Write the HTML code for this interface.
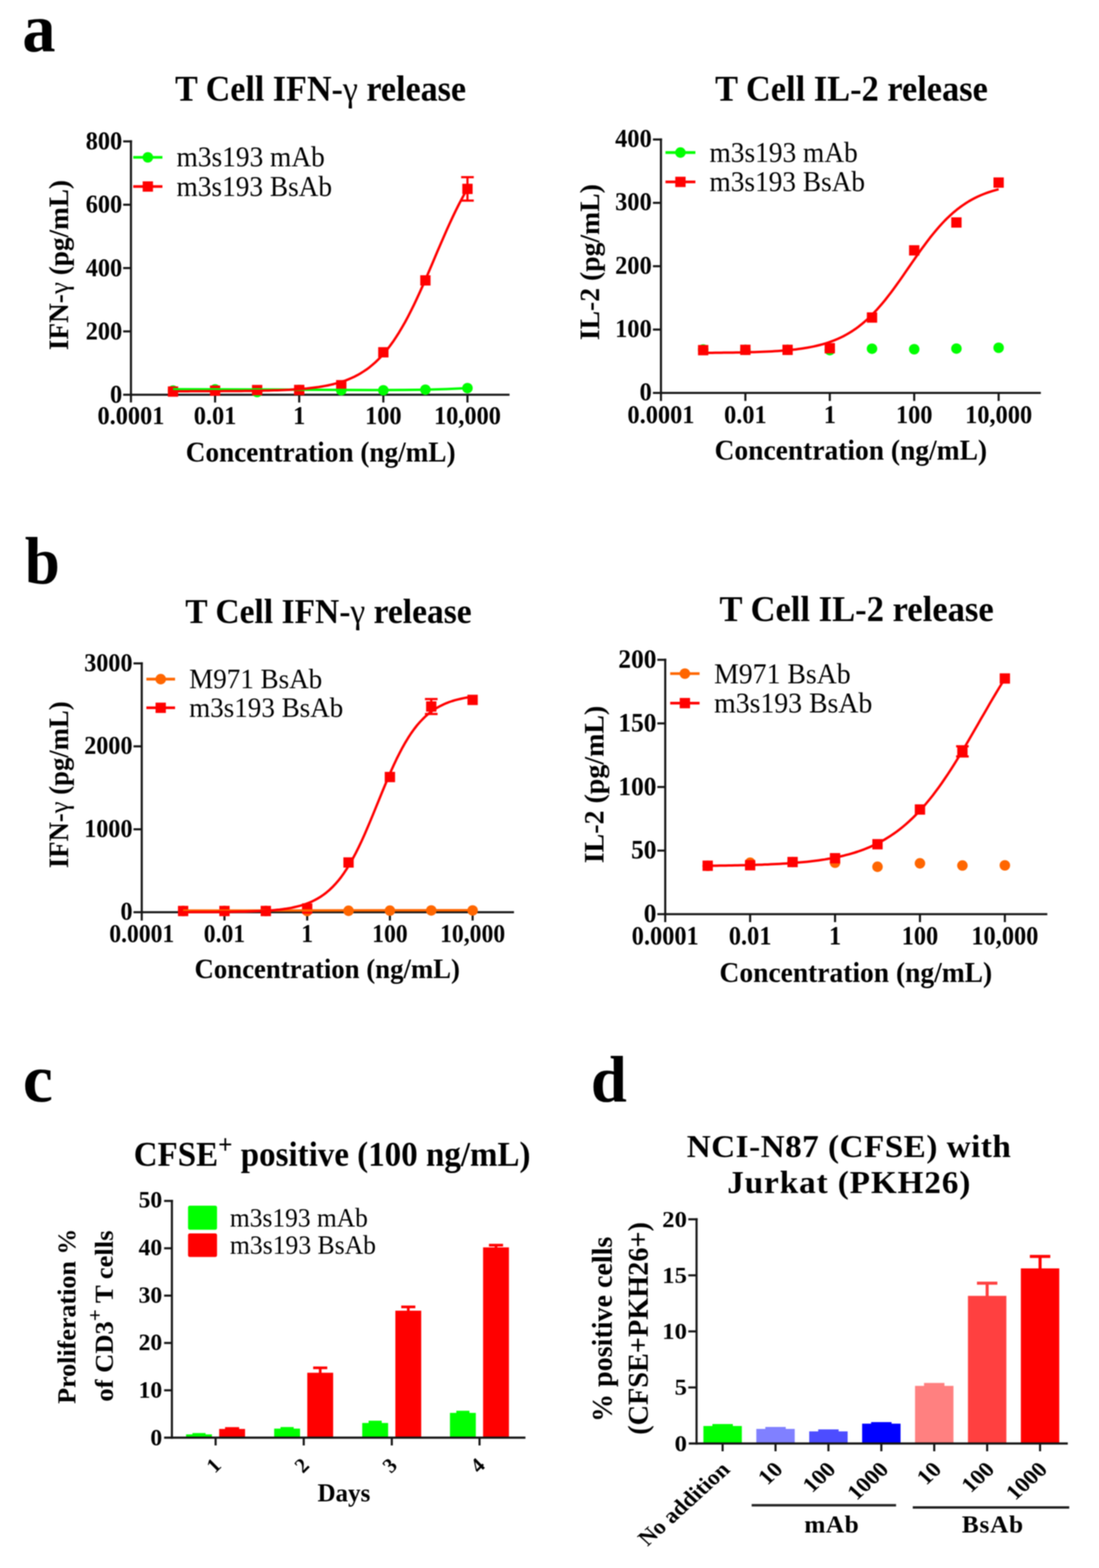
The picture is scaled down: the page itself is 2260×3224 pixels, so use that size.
<!DOCTYPE html>
<html lang="en">
<head>
<meta charset="utf-8">
<title>Figure: T cell cytokine release and proliferation</title>
<style>
html,body{margin:0;padding:0;background:#fff;}
body{width:2260px;height:3224px;overflow:hidden;}
svg{display:block;font-family:'Liberation Serif', 'DejaVu Serif', serif;}
</style>
</head>
<body>
<svg width="2260" height="3224" viewBox="0 0 2260 3224" font-family="'Liberation Serif', 'DejaVu Serif', serif">
<defs><filter id="soft" x="0" y="0" width="2260" height="3224" filterUnits="userSpaceOnUse" color-interpolation-filters="sRGB"><feGaussianBlur stdDeviation="0.9"/></filter></defs>
<rect x="0" y="0" width="2260" height="3224" fill="#fff"/>
<g filter="url(#soft)">
<rect x="0" y="0" width="2260" height="3224" fill="#fff"/>
<g id="a1">
<line x1="269.30" y1="288.55" x2="269.30" y2="827.60" stroke="#141414" stroke-width="4.3"/>
<line x1="253.30" y1="811.60" x2="1047.80" y2="811.60" stroke="#141414" stroke-width="4.3"/>
<line x1="253.30" y1="681.38" x2="269.30" y2="681.38" stroke="#141414" stroke-width="4.3"/>
<line x1="253.30" y1="551.15" x2="269.30" y2="551.15" stroke="#141414" stroke-width="4.3"/>
<line x1="253.30" y1="420.92" x2="269.30" y2="420.92" stroke="#141414" stroke-width="4.3"/>
<line x1="253.30" y1="290.70" x2="271.45" y2="290.70" stroke="#141414" stroke-width="4.3"/>
<line x1="442.30" y1="811.60" x2="442.30" y2="827.60" stroke="#141414" stroke-width="4.3"/>
<line x1="615.30" y1="811.60" x2="615.30" y2="827.60" stroke="#141414" stroke-width="4.3"/>
<line x1="788.30" y1="811.60" x2="788.30" y2="827.60" stroke="#141414" stroke-width="4.3"/>
<line x1="961.30" y1="811.60" x2="961.30" y2="827.60" stroke="#141414" stroke-width="4.3"/>
<circle cx="355.80" cy="803.14" r="10.80" fill="#00ff00"/>
<circle cx="442.30" cy="800.53" r="10.80" fill="#00ff00"/>
<circle cx="528.80" cy="806.07" r="10.80" fill="#00ff00"/>
<circle cx="615.30" cy="801.83" r="10.80" fill="#00ff00"/>
<circle cx="701.80" cy="802.48" r="10.80" fill="#00ff00"/>
<circle cx="788.30" cy="802.48" r="10.80" fill="#00ff00"/>
<circle cx="874.80" cy="801.18" r="10.80" fill="#00ff00"/>
<circle cx="961.30" cy="797.93" r="10.80" fill="#00ff00"/>
<rect x="345.20" y="794.49" width="21.20" height="21.20" fill="#ff0000"/>
<rect x="431.70" y="792.67" width="21.20" height="21.20" fill="#ff0000"/>
<rect x="518.20" y="791.43" width="21.20" height="21.20" fill="#ff0000"/>
<rect x="604.70" y="791.23" width="21.20" height="21.20" fill="#ff0000"/>
<rect x="691.20" y="781.47" width="21.20" height="21.20" fill="#ff0000"/>
<rect x="777.70" y="713.75" width="21.20" height="21.20" fill="#ff0000"/>
<rect x="864.20" y="565.94" width="21.20" height="21.20" fill="#ff0000"/>
<line x1="961.30" y1="364.28" x2="961.30" y2="412.46" stroke="#ff0000" stroke-width="4.5"/>
<line x1="948.30" y1="364.28" x2="974.30" y2="364.28" stroke="#ff0000" stroke-width="4.5"/>
<line x1="948.30" y1="412.46" x2="974.30" y2="412.46" stroke="#ff0000" stroke-width="4.5"/>
<rect x="950.70" y="377.77" width="21.20" height="21.20" fill="#ff0000"/>
<path d="M355.8,800.3 L442.3,800.4 L528.8,800.7 L615.3,801.2 L701.8,801.7 L788.3,802.0 L831.5,801.8 L874.8,801.2 L918.0,799.9 L961.3,797.9" fill="none" stroke="#00ff00" stroke-width="5.0" stroke-linejoin="round"/>
<path d="M355.8,804.4 L361.9,804.4 L368.0,804.4 L374.1,804.4 L380.3,804.4 L386.4,804.4 L392.5,804.3 L398.6,804.3 L404.7,804.3 L410.8,804.3 L417.0,804.3 L423.1,804.3 L429.2,804.3 L435.3,804.2 L441.4,804.2 L447.5,804.2 L453.7,804.2 L459.8,804.1 L465.9,804.1 L472.0,804.1 L478.1,804.0 L484.2,804.0 L490.4,803.9 L496.5,803.9 L502.6,803.8 L508.7,803.7 L514.8,803.7 L520.9,803.6 L527.1,803.5 L533.2,803.4 L539.3,803.2 L545.4,803.1 L551.5,803.0 L557.6,802.8 L563.7,802.6 L569.9,802.4 L576.0,802.2 L582.1,801.9 L588.2,801.7 L594.3,801.4 L600.4,801.0 L606.6,800.6 L612.7,800.2 L618.8,799.7 L624.9,799.2 L631.0,798.7 L637.1,798.0 L643.3,797.3 L649.4,796.5 L655.5,795.7 L661.6,794.7 L667.7,793.6 L673.8,792.5 L680.0,791.1 L686.1,789.7 L692.2,788.1 L698.3,786.3 L704.4,784.4 L710.5,782.3 L716.7,779.9 L722.8,777.3 L728.9,774.4 L735.0,771.3 L741.1,767.8 L747.2,764.0 L753.4,759.9 L759.5,755.4 L765.6,750.4 L771.7,745.1 L777.8,739.2 L783.9,732.9 L790.0,726.1 L796.2,718.7 L802.3,710.8 L808.4,702.3 L814.5,693.2 L820.6,683.6 L826.7,673.3 L832.9,662.5 L839.0,651.1 L845.1,639.2 L851.2,626.8 L857.3,613.9 L863.4,600.6 L869.6,586.9 L875.7,572.9 L881.8,558.7 L887.9,544.4 L894.0,530.0 L900.1,515.6 L906.3,501.3 L912.4,487.2 L918.5,473.3 L924.6,459.8 L930.7,446.6 L936.8,433.8 L943.0,421.5 L949.1,409.8 L955.2,398.6 L961.3,387.9" fill="none" stroke="#ff0000" stroke-width="5.0" stroke-linejoin="round"/>
<text transform="translate(251.30 828.10) scale(0.9450 1)" font-size="53.00" font-weight="bold" text-anchor="end">0</text>
<text transform="translate(251.30 697.88) scale(0.9450 1)" font-size="53.00" font-weight="bold" text-anchor="end">200</text>
<text transform="translate(251.30 567.65) scale(0.9450 1)" font-size="53.00" font-weight="bold" text-anchor="end">400</text>
<text transform="translate(251.30 437.42) scale(0.9450 1)" font-size="53.00" font-weight="bold" text-anchor="end">600</text>
<text transform="translate(251.30 307.20) scale(0.9450 1)" font-size="53.00" font-weight="bold" text-anchor="end">800</text>
<text transform="translate(269.30 871.50) scale(0.9450 1)" font-size="53.00" font-weight="bold" text-anchor="middle">0.0001</text>
<text transform="translate(442.30 871.50) scale(0.9450 1)" font-size="53.00" font-weight="bold" text-anchor="middle">0.01</text>
<text transform="translate(615.30 871.50) scale(0.9450 1)" font-size="53.00" font-weight="bold" text-anchor="middle">1</text>
<text transform="translate(788.30 871.50) scale(0.9450 1)" font-size="53.00" font-weight="bold" text-anchor="middle">100</text>
<text transform="translate(961.30 871.50) scale(0.9450 1)" font-size="53.00" font-weight="bold" text-anchor="middle">10,000</text>
<text transform="translate(382.00 949.00) scale(0.9551 1)" font-size="58.60" font-weight="bold">Concentration (ng/mL)</text>
<text transform="translate(360.00 207.00) scale(0.9598 1)" font-size="73.00" font-weight="bold">T Cell IFN-<tspan font-weight="normal">γ</tspan> release</text>
<text transform="translate(139.70 720.00) rotate(-90) scale(0.9660 1)" font-size="58.00" font-weight="bold">IFN-<tspan font-weight="normal">γ</tspan> (pg/mL)</text>
<line x1="274.00" y1="323.50" x2="334.00" y2="323.50" stroke="#00ff00" stroke-width="5.6"/>
<circle cx="304.00" cy="323.50" r="10.80" fill="#00ff00"/>
<text transform="translate(363.00 342.20) scale(0.9608 1)" font-size="58.60">m3s193 mAb</text>
<line x1="274.00" y1="383.50" x2="334.00" y2="383.50" stroke="#ff0000" stroke-width="5.6"/>
<rect x="293.40" y="372.90" width="21.20" height="21.20" fill="#ff0000"/>
<text transform="translate(363.00 403.00) scale(0.9588 1)" font-size="58.60">m3s193 BsAb</text>
</g>
<g id="a2">
<line x1="1359.20" y1="284.65" x2="1359.20" y2="824.40" stroke="#141414" stroke-width="4.3"/>
<line x1="1342.70" y1="807.90" x2="2140.40" y2="807.90" stroke="#141414" stroke-width="4.3"/>
<line x1="1342.70" y1="677.62" x2="1359.20" y2="677.62" stroke="#141414" stroke-width="4.3"/>
<line x1="1342.70" y1="547.35" x2="1359.20" y2="547.35" stroke="#141414" stroke-width="4.3"/>
<line x1="1342.70" y1="417.08" x2="1359.20" y2="417.08" stroke="#141414" stroke-width="4.3"/>
<line x1="1342.70" y1="286.80" x2="1361.35" y2="286.80" stroke="#141414" stroke-width="4.3"/>
<line x1="1532.80" y1="807.90" x2="1532.80" y2="824.40" stroke="#141414" stroke-width="4.3"/>
<line x1="1706.40" y1="807.90" x2="1706.40" y2="824.40" stroke="#141414" stroke-width="4.3"/>
<line x1="1880.00" y1="807.90" x2="1880.00" y2="824.40" stroke="#141414" stroke-width="4.3"/>
<line x1="2053.60" y1="807.90" x2="2053.60" y2="824.40" stroke="#141414" stroke-width="4.3"/>
<circle cx="1446.00" cy="718.66" r="10.80" fill="#00ff00"/>
<circle cx="1532.80" cy="719.31" r="10.80" fill="#00ff00"/>
<circle cx="1619.60" cy="719.31" r="10.80" fill="#00ff00"/>
<circle cx="1706.40" cy="719.96" r="10.80" fill="#00ff00"/>
<circle cx="1793.20" cy="716.97" r="10.80" fill="#00ff00"/>
<circle cx="1880.00" cy="718.01" r="10.80" fill="#00ff00"/>
<circle cx="1966.80" cy="716.71" r="10.80" fill="#00ff00"/>
<circle cx="2053.60" cy="715.01" r="10.80" fill="#00ff00"/>
<rect x="1435.40" y="709.36" width="21.20" height="21.20" fill="#ff0000"/>
<rect x="1522.20" y="708.71" width="21.20" height="21.20" fill="#ff0000"/>
<rect x="1609.00" y="708.71" width="21.20" height="21.20" fill="#ff0000"/>
<rect x="1695.80" y="705.33" width="21.20" height="21.20" fill="#ff0000"/>
<rect x="1782.60" y="642.27" width="21.20" height="21.20" fill="#ff0000"/>
<rect x="1869.40" y="504.18" width="21.20" height="21.20" fill="#ff0000"/>
<rect x="1956.20" y="446.86" width="21.20" height="21.20" fill="#ff0000"/>
<rect x="2043.00" y="364.79" width="21.20" height="21.20" fill="#ff0000"/>
<path d="M1446.0,725.5 L1452.1,725.4 L1458.3,725.4 L1464.4,725.4 L1470.5,725.3 L1476.7,725.3 L1482.8,725.2 L1489.0,725.1 L1495.1,725.1 L1501.2,725.0 L1507.4,724.9 L1513.5,724.8 L1519.6,724.7 L1525.8,724.6 L1531.9,724.4 L1538.1,724.3 L1544.2,724.1 L1550.3,724.0 L1556.5,723.8 L1562.6,723.6 L1568.7,723.3 L1574.9,723.1 L1581.0,722.8 L1587.2,722.4 L1593.3,722.1 L1599.4,721.7 L1605.6,721.3 L1611.7,720.8 L1617.8,720.3 L1624.0,719.7 L1630.1,719.1 L1636.3,718.4 L1642.4,717.6 L1648.5,716.7 L1654.7,715.8 L1660.8,714.8 L1666.9,713.6 L1673.1,712.4 L1679.2,711.0 L1685.4,709.5 L1691.5,707.9 L1697.6,706.1 L1703.8,704.1 L1709.9,701.9 L1716.0,699.6 L1722.2,697.0 L1728.3,694.2 L1734.5,691.2 L1740.6,687.9 L1746.7,684.3 L1752.9,680.5 L1759.0,676.4 L1765.1,671.9 L1771.3,667.1 L1777.4,662.0 L1783.6,656.5 L1789.7,650.7 L1795.8,644.6 L1802.0,638.1 L1808.1,631.2 L1814.2,624.1 L1820.4,616.6 L1826.5,608.8 L1832.7,600.8 L1838.8,592.5 L1844.9,584.0 L1851.1,575.4 L1857.2,566.6 L1863.3,557.7 L1869.5,548.8 L1875.6,539.9 L1881.8,531.0 L1887.9,522.3 L1894.0,513.6 L1900.2,505.2 L1906.3,496.9 L1912.4,488.9 L1918.6,481.2 L1924.7,473.8 L1930.9,466.7 L1937.0,459.9 L1943.1,453.4 L1949.3,447.3 L1955.4,441.6 L1961.5,436.2 L1967.7,431.1 L1973.8,426.4 L1980.0,422.0 L1986.1,417.9 L1992.2,414.0 L1998.4,410.5 L2004.5,407.3 L2010.6,404.3 L2016.8,401.5 L2022.9,399.0 L2029.1,396.7 L2035.2,394.6 L2041.3,392.6 L2047.5,390.8 L2053.6,389.2" fill="none" stroke="#ff0000" stroke-width="5.0" stroke-linejoin="round"/>
<text transform="translate(1340.20 823.20) scale(0.9450 1)" font-size="53.00" font-weight="bold" text-anchor="end">0</text>
<text transform="translate(1340.20 692.83) scale(0.9450 1)" font-size="53.00" font-weight="bold" text-anchor="end">100</text>
<text transform="translate(1340.20 562.55) scale(0.9450 1)" font-size="53.00" font-weight="bold" text-anchor="end">200</text>
<text transform="translate(1340.20 432.18) scale(0.9450 1)" font-size="53.00" font-weight="bold" text-anchor="end">300</text>
<text transform="translate(1340.20 302.00) scale(0.9450 1)" font-size="53.00" font-weight="bold" text-anchor="end">400</text>
<text transform="translate(1359.20 869.50) scale(0.9450 1)" font-size="53.00" font-weight="bold" text-anchor="middle">0.0001</text>
<text transform="translate(1532.80 869.50) scale(0.9450 1)" font-size="53.00" font-weight="bold" text-anchor="middle">0.01</text>
<text transform="translate(1706.40 869.50) scale(0.9450 1)" font-size="53.00" font-weight="bold" text-anchor="middle">1</text>
<text transform="translate(1880.00 869.50) scale(0.9450 1)" font-size="53.00" font-weight="bold" text-anchor="middle">100</text>
<text transform="translate(2053.60 869.50) scale(0.9450 1)" font-size="53.00" font-weight="bold" text-anchor="middle">10,000</text>
<text transform="translate(1469.50 944.50) scale(0.9646 1)" font-size="58.60" font-weight="bold">Concentration (ng/mL)</text>
<text transform="translate(1470.50 207.40) scale(0.9686 1)" font-size="73.00" font-weight="bold">T Cell IL-2 release</text>
<text transform="translate(1232.00 699.50) rotate(-90) scale(0.9814 1)" font-size="58.00" font-weight="bold">IL-2 (pg/mL)</text>
<line x1="1368.50" y1="313.60" x2="1430.00" y2="313.60" stroke="#00ff00" stroke-width="5.6"/>
<circle cx="1399.25" cy="313.60" r="10.80" fill="#00ff00"/>
<text transform="translate(1459.00 333.00) scale(0.9608 1)" font-size="58.60">m3s193 mAb</text>
<line x1="1368.50" y1="374.00" x2="1430.00" y2="374.00" stroke="#ff0000" stroke-width="5.6"/>
<rect x="1388.65" y="363.40" width="21.20" height="21.20" fill="#ff0000"/>
<text transform="translate(1459.00 392.70) scale(0.9588 1)" font-size="58.60">m3s193 BsAb</text>
</g>
<g id="b1">
<line x1="291.50" y1="1361.85" x2="291.50" y2="1892.70" stroke="#141414" stroke-width="4.3"/>
<line x1="274.50" y1="1875.70" x2="1056.95" y2="1875.70" stroke="#141414" stroke-width="4.3"/>
<line x1="274.50" y1="1705.13" x2="291.50" y2="1705.13" stroke="#141414" stroke-width="4.3"/>
<line x1="274.50" y1="1534.57" x2="291.50" y2="1534.57" stroke="#141414" stroke-width="4.3"/>
<line x1="274.50" y1="1364.00" x2="293.65" y2="1364.00" stroke="#141414" stroke-width="4.3"/>
<line x1="461.60" y1="1875.70" x2="461.60" y2="1892.70" stroke="#141414" stroke-width="4.3"/>
<line x1="631.70" y1="1875.70" x2="631.70" y2="1892.70" stroke="#141414" stroke-width="4.3"/>
<line x1="801.80" y1="1875.70" x2="801.80" y2="1892.70" stroke="#141414" stroke-width="4.3"/>
<line x1="971.90" y1="1875.70" x2="971.90" y2="1892.70" stroke="#141414" stroke-width="4.3"/>
<circle cx="376.55" cy="1873.14" r="10.80" fill="#ff6600"/>
<circle cx="461.60" cy="1873.14" r="10.80" fill="#ff6600"/>
<circle cx="546.65" cy="1873.14" r="10.80" fill="#ff6600"/>
<circle cx="631.70" cy="1873.14" r="10.80" fill="#ff6600"/>
<circle cx="716.75" cy="1872.63" r="10.80" fill="#ff6600"/>
<circle cx="801.80" cy="1872.29" r="10.80" fill="#ff6600"/>
<circle cx="886.85" cy="1871.95" r="10.80" fill="#ff6600"/>
<circle cx="971.90" cy="1871.95" r="10.80" fill="#ff6600"/>
<rect x="365.95" y="1862.54" width="21.20" height="21.20" fill="#ff0000"/>
<rect x="451.00" y="1862.54" width="21.20" height="21.20" fill="#ff0000"/>
<rect x="536.05" y="1862.54" width="21.20" height="21.20" fill="#ff0000"/>
<rect x="621.10" y="1857.42" width="21.20" height="21.20" fill="#ff0000"/>
<rect x="706.15" y="1762.76" width="21.20" height="21.20" fill="#ff0000"/>
<rect x="791.20" y="1587.08" width="21.20" height="21.20" fill="#ff0000"/>
<line x1="886.85" y1="1437.34" x2="886.85" y2="1468.05" stroke="#ff0000" stroke-width="4.5"/>
<line x1="873.85" y1="1437.34" x2="899.85" y2="1437.34" stroke="#ff0000" stroke-width="4.5"/>
<line x1="873.85" y1="1468.05" x2="899.85" y2="1468.05" stroke="#ff0000" stroke-width="4.5"/>
<rect x="876.25" y="1442.09" width="21.20" height="21.20" fill="#ff0000"/>
<rect x="961.30" y="1428.45" width="21.20" height="21.20" fill="#ff0000"/>
<path d="M376.6,1872.3 L971.9,1871.6" fill="none" stroke="#ff6600" stroke-width="5.0" stroke-linejoin="round"/>
<path d="M376.6,1875.4 L382.6,1875.4 L388.6,1875.4 L394.6,1875.3 L400.6,1875.3 L406.6,1875.3 L412.6,1875.3 L418.6,1875.3 L424.7,1875.3 L430.7,1875.2 L436.7,1875.2 L442.7,1875.2 L448.7,1875.1 L454.7,1875.1 L460.7,1875.0 L466.8,1875.0 L472.8,1874.9 L478.8,1874.8 L484.8,1874.7 L490.8,1874.6 L496.8,1874.5 L502.8,1874.4 L508.8,1874.2 L514.9,1874.0 L520.9,1873.8 L526.9,1873.6 L532.9,1873.3 L538.9,1873.0 L544.9,1872.7 L550.9,1872.3 L557.0,1871.9 L563.0,1871.4 L569.0,1870.8 L575.0,1870.2 L581.0,1869.4 L587.0,1868.6 L593.0,1867.6 L599.1,1866.6 L605.1,1865.3 L611.1,1863.9 L617.1,1862.4 L623.1,1860.6 L629.1,1858.6 L635.1,1856.3 L641.1,1853.7 L647.2,1850.8 L653.2,1847.5 L659.2,1843.9 L665.2,1839.8 L671.2,1835.2 L677.2,1830.1 L683.2,1824.4 L689.3,1818.1 L695.3,1811.2 L701.3,1803.6 L707.3,1795.2 L713.3,1786.2 L719.3,1776.3 L725.3,1765.8 L731.4,1754.4 L737.4,1742.4 L743.4,1729.7 L749.4,1716.5 L755.4,1702.6 L761.4,1688.4 L767.4,1673.9 L773.4,1659.1 L779.5,1644.3 L785.5,1629.5 L791.5,1615.0 L797.5,1600.7 L803.5,1586.8 L809.5,1573.5 L815.5,1560.7 L821.6,1548.6 L827.6,1537.2 L833.6,1526.6 L839.6,1516.7 L845.6,1507.5 L851.6,1499.1 L857.6,1491.4 L863.7,1484.4 L869.7,1478.1 L875.7,1472.3 L881.7,1467.2 L887.7,1462.5 L893.7,1458.4 L899.7,1454.7 L905.8,1451.4 L911.8,1448.5 L917.8,1445.8 L923.8,1443.5 L929.8,1441.5 L935.8,1439.7 L941.8,1438.1 L947.8,1436.7 L953.9,1435.4 L959.9,1434.3 L965.9,1433.4 L971.9,1432.5" fill="none" stroke="#ff0000" stroke-width="5.0" stroke-linejoin="round"/>
<text transform="translate(272.50 1891.20) scale(0.9550 1)" font-size="52.00" font-weight="bold" text-anchor="end">0</text>
<text transform="translate(272.50 1720.63) scale(0.9550 1)" font-size="52.00" font-weight="bold" text-anchor="end">1000</text>
<text transform="translate(272.50 1550.07) scale(0.9550 1)" font-size="52.00" font-weight="bold" text-anchor="end">2000</text>
<text transform="translate(272.50 1379.50) scale(0.9550 1)" font-size="52.00" font-weight="bold" text-anchor="end">3000</text>
<text transform="translate(291.50 1936.80) scale(0.9350 1)" font-size="52.00" font-weight="bold" text-anchor="middle">0.0001</text>
<text transform="translate(461.60 1936.80) scale(0.9350 1)" font-size="52.00" font-weight="bold" text-anchor="middle">0.01</text>
<text transform="translate(631.70 1936.80) scale(0.9350 1)" font-size="52.00" font-weight="bold" text-anchor="middle">1</text>
<text transform="translate(801.80 1936.80) scale(0.9350 1)" font-size="52.00" font-weight="bold" text-anchor="middle">100</text>
<text transform="translate(971.90 1936.80) scale(0.9350 1)" font-size="52.00" font-weight="bold" text-anchor="middle">10,000</text>
<text transform="translate(400.00 2011.00) scale(0.9576 1)" font-size="57.50" font-weight="bold">Concentration (ng/mL)</text>
<text transform="translate(381.00 1281.00) scale(0.9511 1)" font-size="72.50" font-weight="bold">T Cell IFN-<tspan font-weight="normal">γ</tspan> release</text>
<text transform="translate(140.00 1785.00) rotate(-90) scale(0.9633 1)" font-size="57.00" font-weight="bold">IFN-<tspan font-weight="normal">γ</tspan> (pg/mL)</text>
<line x1="301.00" y1="1396.40" x2="360.00" y2="1396.40" stroke="#ff6600" stroke-width="5.6"/>
<circle cx="330.50" cy="1396.40" r="10.80" fill="#ff6600"/>
<text transform="translate(389.00 1414.60) scale(0.9680 1)" font-size="57.50">M971 BsAb</text>
<line x1="301.00" y1="1455.30" x2="360.00" y2="1455.30" stroke="#ff0000" stroke-width="5.6"/>
<rect x="319.90" y="1444.70" width="21.20" height="21.20" fill="#ff0000"/>
<text transform="translate(389.00 1474.00) scale(0.9680 1)" font-size="57.50">m3s193 BsAb</text>
</g>
<g id="b2">
<line x1="1368.00" y1="1354.45" x2="1368.00" y2="1896.00" stroke="#141414" stroke-width="4.3"/>
<line x1="1351.70" y1="1879.70" x2="2153.70" y2="1879.70" stroke="#141414" stroke-width="4.3"/>
<line x1="1351.70" y1="1748.92" x2="1368.00" y2="1748.92" stroke="#141414" stroke-width="4.3"/>
<line x1="1351.70" y1="1618.15" x2="1368.00" y2="1618.15" stroke="#141414" stroke-width="4.3"/>
<line x1="1351.70" y1="1487.38" x2="1368.00" y2="1487.38" stroke="#141414" stroke-width="4.3"/>
<line x1="1351.70" y1="1356.60" x2="1370.15" y2="1356.60" stroke="#141414" stroke-width="4.3"/>
<line x1="1542.60" y1="1879.70" x2="1542.60" y2="1896.00" stroke="#141414" stroke-width="4.3"/>
<line x1="1717.20" y1="1879.70" x2="1717.20" y2="1896.00" stroke="#141414" stroke-width="4.3"/>
<line x1="1891.80" y1="1879.70" x2="1891.80" y2="1896.00" stroke="#141414" stroke-width="4.3"/>
<line x1="2066.40" y1="1879.70" x2="2066.40" y2="1896.00" stroke="#141414" stroke-width="4.3"/>
<circle cx="1455.30" cy="1780.31" r="10.80" fill="#ff6600"/>
<circle cx="1542.60" cy="1773.77" r="10.80" fill="#ff6600"/>
<circle cx="1629.90" cy="1772.46" r="10.80" fill="#ff6600"/>
<circle cx="1717.20" cy="1773.77" r="10.80" fill="#ff6600"/>
<circle cx="1804.50" cy="1782.14" r="10.80" fill="#ff6600"/>
<circle cx="1891.80" cy="1775.08" r="10.80" fill="#ff6600"/>
<circle cx="1979.10" cy="1779.53" r="10.80" fill="#ff6600"/>
<circle cx="2066.40" cy="1779.26" r="10.80" fill="#ff6600"/>
<rect x="1444.70" y="1769.45" width="21.20" height="21.20" fill="#ff0000"/>
<rect x="1532.00" y="1768.40" width="21.20" height="21.20" fill="#ff0000"/>
<rect x="1619.30" y="1761.86" width="21.20" height="21.20" fill="#ff0000"/>
<rect x="1706.60" y="1754.02" width="21.20" height="21.20" fill="#ff0000"/>
<rect x="1793.90" y="1725.25" width="21.20" height="21.20" fill="#ff0000"/>
<rect x="1881.20" y="1653.84" width="21.20" height="21.20" fill="#ff0000"/>
<line x1="1979.10" y1="1534.45" x2="1979.10" y2="1555.38" stroke="#ff0000" stroke-width="4.5"/>
<line x1="1966.10" y1="1534.45" x2="1992.10" y2="1534.45" stroke="#ff0000" stroke-width="4.5"/>
<line x1="1966.10" y1="1555.38" x2="1992.10" y2="1555.38" stroke="#ff0000" stroke-width="4.5"/>
<rect x="1968.50" y="1534.32" width="21.20" height="21.20" fill="#ff0000"/>
<rect x="2055.80" y="1384.45" width="21.20" height="21.20" fill="#ff0000"/>
<path d="M1455.3,1780.1 L1461.5,1780.1 L1467.6,1780.0 L1473.8,1779.9 L1480.0,1779.8 L1486.2,1779.8 L1492.3,1779.7 L1498.5,1779.6 L1504.7,1779.5 L1510.9,1779.3 L1517.0,1779.2 L1523.2,1779.1 L1529.4,1779.0 L1535.5,1778.8 L1541.7,1778.6 L1547.9,1778.5 L1554.1,1778.3 L1560.2,1778.1 L1566.4,1777.9 L1572.6,1777.6 L1578.8,1777.4 L1584.9,1777.1 L1591.1,1776.8 L1597.3,1776.5 L1603.4,1776.2 L1609.6,1775.8 L1615.8,1775.5 L1622.0,1775.1 L1628.1,1774.6 L1634.3,1774.1 L1640.5,1773.6 L1646.7,1773.1 L1652.8,1772.5 L1659.0,1771.9 L1665.2,1771.2 L1671.3,1770.5 L1677.5,1769.7 L1683.7,1768.9 L1689.9,1768.0 L1696.0,1767.1 L1702.2,1766.0 L1708.4,1765.0 L1714.6,1763.8 L1720.7,1762.5 L1726.9,1761.2 L1733.1,1759.8 L1739.2,1758.2 L1745.4,1756.6 L1751.6,1754.8 L1757.8,1753.0 L1763.9,1751.0 L1770.1,1748.8 L1776.3,1746.6 L1782.5,1744.1 L1788.6,1741.6 L1794.8,1738.8 L1801.0,1735.9 L1807.1,1732.8 L1813.3,1729.5 L1819.5,1726.0 L1825.7,1722.2 L1831.8,1718.3 L1838.0,1714.1 L1844.2,1709.7 L1850.4,1705.0 L1856.5,1700.1 L1862.7,1694.9 L1868.9,1689.4 L1875.0,1683.7 L1881.2,1677.6 L1887.4,1671.3 L1893.6,1664.7 L1899.7,1657.8 L1905.9,1650.5 L1912.1,1643.0 L1918.3,1635.2 L1924.4,1627.1 L1930.6,1618.7 L1936.8,1610.0 L1942.9,1601.0 L1949.1,1591.8 L1955.3,1582.4 L1961.5,1572.7 L1967.6,1562.8 L1973.8,1552.7 L1980.0,1542.4 L1986.2,1532.0 L1992.3,1521.5 L1998.5,1510.8 L2004.7,1500.1 L2010.8,1489.4 L2017.0,1478.6 L2023.2,1467.9 L2029.4,1457.2 L2035.5,1446.5 L2041.7,1436.0 L2047.9,1425.6 L2054.1,1415.3 L2060.2,1405.2 L2066.4,1395.3" fill="none" stroke="#ff0000" stroke-width="5.0" stroke-linejoin="round"/>
<text transform="translate(1350.00 1896.20) scale(0.9600 1)" font-size="54.50" font-weight="bold" text-anchor="end">0</text>
<text transform="translate(1350.00 1765.42) scale(0.9600 1)" font-size="54.50" font-weight="bold" text-anchor="end">50</text>
<text transform="translate(1350.00 1634.65) scale(0.9600 1)" font-size="54.50" font-weight="bold" text-anchor="end">100</text>
<text transform="translate(1350.00 1503.88) scale(0.9600 1)" font-size="54.50" font-weight="bold" text-anchor="end">150</text>
<text transform="translate(1350.00 1373.10) scale(0.9600 1)" font-size="54.50" font-weight="bold" text-anchor="end">200</text>
<text transform="translate(1368.00 1942.00) scale(0.9200 1)" font-size="54.50" font-weight="bold" text-anchor="middle">0.0001</text>
<text transform="translate(1542.60 1942.00) scale(0.9200 1)" font-size="54.50" font-weight="bold" text-anchor="middle">0.01</text>
<text transform="translate(1717.20 1942.00) scale(0.9200 1)" font-size="54.50" font-weight="bold" text-anchor="middle">1</text>
<text transform="translate(1891.80 1942.00) scale(0.9200 1)" font-size="54.50" font-weight="bold" text-anchor="middle">100</text>
<text transform="translate(2066.40 1942.00) scale(0.9200 1)" font-size="54.50" font-weight="bold" text-anchor="middle">10,000</text>
<text transform="translate(1479.60 2019.00) scale(0.9654 1)" font-size="58.60" font-weight="bold">Concentration (ng/mL)</text>
<text transform="translate(1479.50 1276.80) scale(0.9672 1)" font-size="73.50" font-weight="bold">T Cell IL-2 release</text>
<text transform="translate(1241.00 1775.00) rotate(-90) scale(0.9906 1)" font-size="58.00" font-weight="bold">IL-2 (pg/mL)</text>
<line x1="1378.20" y1="1385.00" x2="1438.60" y2="1385.00" stroke="#ff6600" stroke-width="5.6"/>
<circle cx="1408.40" cy="1385.00" r="10.80" fill="#ff6600"/>
<text transform="translate(1468.50 1404.70) scale(0.9750 1)" font-size="58.60">M971 BsAb</text>
<line x1="1378.20" y1="1445.70" x2="1438.60" y2="1445.70" stroke="#ff0000" stroke-width="5.6"/>
<rect x="1397.80" y="1435.10" width="21.20" height="21.20" fill="#ff0000"/>
<text transform="translate(1468.50 1465.00) scale(0.9750 1)" font-size="58.60">m3s193 BsAb</text>
</g>
<text transform="translate(46.00 106.00) scale(0.9600 1)" font-size="142.00" font-weight="bold">a</text>
<text transform="translate(51.00 1200.00) scale(0.9450 1)" font-size="137.00" font-weight="bold">b</text>
<text transform="translate(47.00 2265.00)" font-size="139.00" font-weight="bold">c</text>
<text transform="translate(1215.00 2265.00) scale(0.9830 1)" font-size="135.50" font-weight="bold">d</text>
<g id="c">
<line x1="409.20" y1="2949.28" x2="409.20" y2="2950.28" stroke="#00ff00" stroke-width="5.5"/>
<line x1="395.70" y1="2949.28" x2="422.70" y2="2949.28" stroke="#00ff00" stroke-width="5.5"/>
<rect x="382.60" y="2949.28" width="53.20" height="6.72" fill="#00ff00"/>
<line x1="477.30" y1="2937.11" x2="477.30" y2="2939.09" stroke="#ff0000" stroke-width="5.5"/>
<line x1="462.80" y1="2937.11" x2="491.80" y2="2937.11" stroke="#ff0000" stroke-width="5.5"/>
<rect x="450.70" y="2938.09" width="53.20" height="17.91" fill="#ff0000"/>
<line x1="590.40" y1="2936.92" x2="590.40" y2="2938.41" stroke="#00ff00" stroke-width="5.5"/>
<line x1="576.90" y1="2936.92" x2="603.90" y2="2936.92" stroke="#00ff00" stroke-width="5.5"/>
<rect x="563.80" y="2937.41" width="53.20" height="18.59" fill="#00ff00"/>
<line x1="658.50" y1="2812.41" x2="658.50" y2="2823.53" stroke="#ff0000" stroke-width="5.5"/>
<line x1="644.00" y1="2812.41" x2="673.00" y2="2812.41" stroke="#ff0000" stroke-width="5.5"/>
<rect x="631.90" y="2822.53" width="53.20" height="133.47" fill="#ff0000"/>
<line x1="771.50" y1="2923.87" x2="771.50" y2="2926.82" stroke="#00ff00" stroke-width="5.5"/>
<line x1="758.00" y1="2923.87" x2="785.00" y2="2923.87" stroke="#00ff00" stroke-width="5.5"/>
<rect x="744.90" y="2925.82" width="53.20" height="30.18" fill="#00ff00"/>
<line x1="839.60" y1="2687.12" x2="839.60" y2="2695.91" stroke="#ff0000" stroke-width="5.5"/>
<line x1="825.10" y1="2687.12" x2="854.10" y2="2687.12" stroke="#ff0000" stroke-width="5.5"/>
<rect x="813.00" y="2694.91" width="53.20" height="261.09" fill="#ff0000"/>
<line x1="951.90" y1="2903.43" x2="951.90" y2="2906.09" stroke="#00ff00" stroke-width="5.5"/>
<line x1="938.40" y1="2903.43" x2="965.40" y2="2903.43" stroke="#00ff00" stroke-width="5.5"/>
<rect x="925.30" y="2905.09" width="53.20" height="50.91" fill="#00ff00"/>
<line x1="1020.00" y1="2560.17" x2="1020.00" y2="2565.75" stroke="#ff0000" stroke-width="5.5"/>
<line x1="1005.50" y1="2560.17" x2="1034.50" y2="2560.17" stroke="#ff0000" stroke-width="5.5"/>
<rect x="993.40" y="2564.75" width="53.20" height="391.25" fill="#ff0000"/>
<line x1="353.50" y1="2467.10" x2="353.50" y2="2958.15" stroke="#141414" stroke-width="4.3"/>
<line x1="337.50" y1="2956.00" x2="1080.50" y2="2956.00" stroke="#141414" stroke-width="4.3"/>
<text transform="translate(333.50 2972.00) scale(0.9800 1)" font-size="49.50" font-weight="bold" text-anchor="end">0</text>
<line x1="337.50" y1="2858.65" x2="353.50" y2="2858.65" stroke="#141414" stroke-width="4.3"/>
<text transform="translate(333.50 2874.35) scale(0.9800 1)" font-size="49.50" font-weight="bold" text-anchor="end">10</text>
<line x1="337.50" y1="2761.30" x2="353.50" y2="2761.30" stroke="#141414" stroke-width="4.3"/>
<text transform="translate(333.50 2776.30) scale(0.9800 1)" font-size="49.50" font-weight="bold" text-anchor="end">20</text>
<line x1="337.50" y1="2663.95" x2="353.50" y2="2663.95" stroke="#141414" stroke-width="4.3"/>
<text transform="translate(333.50 2678.65) scale(0.9800 1)" font-size="49.50" font-weight="bold" text-anchor="end">30</text>
<line x1="337.50" y1="2566.60" x2="353.50" y2="2566.60" stroke="#141414" stroke-width="4.3"/>
<text transform="translate(333.50 2580.60) scale(0.9800 1)" font-size="49.50" font-weight="bold" text-anchor="end">40</text>
<line x1="337.50" y1="2469.25" x2="355.65" y2="2469.25" stroke="#141414" stroke-width="4.3"/>
<text transform="translate(333.50 2483.25) scale(0.9800 1)" font-size="49.50" font-weight="bold" text-anchor="end">50</text>
<line x1="443.40" y1="2956.00" x2="443.40" y2="2972.00" stroke="#141414" stroke-width="4.3"/>
<text transform="translate(456.90 3015.50) rotate(-45)" font-size="43.00" font-weight="bold" text-anchor="end">1</text>
<line x1="624.60" y1="2956.00" x2="624.60" y2="2972.00" stroke="#141414" stroke-width="4.3"/>
<text transform="translate(638.10 3015.50) rotate(-45)" font-size="43.00" font-weight="bold" text-anchor="end">2</text>
<line x1="805.70" y1="2956.00" x2="805.70" y2="2972.00" stroke="#141414" stroke-width="4.3"/>
<text transform="translate(819.20 3015.50) rotate(-45)" font-size="43.00" font-weight="bold" text-anchor="end">3</text>
<line x1="986.10" y1="2956.00" x2="986.10" y2="2972.00" stroke="#141414" stroke-width="4.3"/>
<text transform="translate(999.60 3015.50) rotate(-45)" font-size="43.00" font-weight="bold" text-anchor="end">4</text>
<text transform="translate(653.00 3086.60) scale(0.9696 1)" font-size="53.00" font-weight="bold">Days</text>
<text transform="translate(275.00 2397.20) scale(0.9455 1)" font-size="71.80" font-weight="bold">CFSE<tspan dy="-26" font-size="55">+</tspan><tspan dy="26"> positive (100 ng/mL)</tspan></text>
<text transform="translate(154.70 2886.50) rotate(-90) scale(1.0050 1)" font-size="53.30" font-weight="bold">Proliferation %</text>
<text transform="translate(232.30 2882.00) rotate(-90) scale(1.0255 1)" font-size="53.30" font-weight="bold">of CD3<tspan dy="-23" font-size="42">+</tspan><tspan dy="23"> T cells</tspan></text>
<rect x="386.70" y="2478.90" width="59.60" height="49.60" fill="#00ff00" rx="4"/>
<rect x="386.70" y="2536.00" width="59.60" height="48.40" fill="#ff0000" rx="4"/>
<text transform="translate(472.80 2522.00) scale(0.9699 1)" font-size="54.00">m3s193 mAb</text>
<text transform="translate(472.80 2578.00) scale(0.9771 1)" font-size="54.00">m3s193 BsAb</text>
</g>
<g id="d">
<line x1="1486.00" y1="2931.12" x2="1486.00" y2="2933.04" stroke="#00ff00" stroke-width="6.3"/>
<line x1="1465.00" y1="2931.12" x2="1507.00" y2="2931.12" stroke="#00ff00" stroke-width="6.3"/>
<rect x="1446.50" y="2932.04" width="79.00" height="35.96" fill="#00ff00"/>
<line x1="1594.80" y1="2937.11" x2="1594.80" y2="2939.03" stroke="#8080ff" stroke-width="6.3"/>
<line x1="1573.80" y1="2937.11" x2="1615.80" y2="2937.11" stroke="#8080ff" stroke-width="6.3"/>
<rect x="1555.30" y="2938.03" width="79.00" height="29.97" fill="#8080ff"/>
<line x1="1703.60" y1="2942.18" x2="1703.60" y2="2944.11" stroke="#4d4dff" stroke-width="6.3"/>
<line x1="1682.60" y1="2942.18" x2="1724.60" y2="2942.18" stroke="#4d4dff" stroke-width="6.3"/>
<rect x="1664.10" y="2943.11" width="79.00" height="24.89" fill="#4d4dff"/>
<line x1="1812.40" y1="2927.20" x2="1812.40" y2="2928.20" stroke="#0000ff" stroke-width="6.3"/>
<line x1="1791.40" y1="2927.20" x2="1833.40" y2="2927.20" stroke="#0000ff" stroke-width="6.3"/>
<rect x="1772.90" y="2927.20" width="79.00" height="40.80" fill="#0000ff"/>
<line x1="1921.20" y1="2846.76" x2="1921.20" y2="2850.52" stroke="#ff8080" stroke-width="6.3"/>
<line x1="1900.20" y1="2846.76" x2="1942.20" y2="2846.76" stroke="#ff8080" stroke-width="6.3"/>
<rect x="1881.70" y="2849.52" width="79.00" height="118.48" fill="#ff8080"/>
<line x1="2030.00" y1="2638.39" x2="2030.00" y2="2665.43" stroke="#ff4040" stroke-width="6.3"/>
<line x1="2009.00" y1="2638.39" x2="2051.00" y2="2638.39" stroke="#ff4040" stroke-width="6.3"/>
<rect x="1990.50" y="2664.43" width="79.00" height="303.57" fill="#ff4040"/>
<line x1="2138.80" y1="2583.30" x2="2138.80" y2="2608.96" stroke="#ff0000" stroke-width="6.3"/>
<line x1="2117.80" y1="2583.30" x2="2159.80" y2="2583.30" stroke="#ff0000" stroke-width="6.3"/>
<rect x="2099.30" y="2607.96" width="79.00" height="360.04" fill="#ff0000"/>
<line x1="1432.40" y1="2504.85" x2="1432.40" y2="2970.15" stroke="#141414" stroke-width="4.3"/>
<line x1="1416.40" y1="2968.00" x2="2195.80" y2="2968.00" stroke="#141414" stroke-width="4.3"/>
<text transform="translate(1412.60 2983.60) scale(1.0800 1)" font-size="47.00" font-weight="bold" text-anchor="end">0</text>
<line x1="1415.40" y1="2852.75" x2="1432.40" y2="2852.75" stroke="#141414" stroke-width="4.3"/>
<text transform="translate(1412.60 2868.35) scale(1.0800 1)" font-size="47.00" font-weight="bold" text-anchor="end">5</text>
<line x1="1415.40" y1="2737.50" x2="1432.40" y2="2737.50" stroke="#141414" stroke-width="4.3"/>
<text transform="translate(1412.60 2753.10) scale(1.0800 1)" font-size="47.00" font-weight="bold" text-anchor="end">10</text>
<line x1="1415.40" y1="2622.25" x2="1432.40" y2="2622.25" stroke="#141414" stroke-width="4.3"/>
<text transform="translate(1412.60 2637.85) scale(1.0800 1)" font-size="47.00" font-weight="bold" text-anchor="end">15</text>
<line x1="1415.40" y1="2507.00" x2="1434.55" y2="2507.00" stroke="#141414" stroke-width="4.3"/>
<text transform="translate(1412.60 2522.60) scale(1.0800 1)" font-size="47.00" font-weight="bold" text-anchor="end">20</text>
<line x1="1486.00" y1="2968.00" x2="1486.00" y2="2984.00" stroke="#141414" stroke-width="4.3"/>
<text transform="translate(1503.50 3024.00) scale(1.1000 1.0000) rotate(-45)" font-size="44.00" font-weight="bold" text-anchor="end">No addition</text>
<line x1="1594.80" y1="2968.00" x2="1594.80" y2="2984.00" stroke="#141414" stroke-width="4.3"/>
<text transform="translate(1612.30 3024.00) scale(1.1000 1.0000) rotate(-45)" font-size="44.00" font-weight="bold" text-anchor="end">10</text>
<line x1="1703.60" y1="2968.00" x2="1703.60" y2="2984.00" stroke="#141414" stroke-width="4.3"/>
<text transform="translate(1721.10 3024.00) scale(1.1000 1.0000) rotate(-45)" font-size="44.00" font-weight="bold" text-anchor="end">100</text>
<line x1="1812.40" y1="2968.00" x2="1812.40" y2="2984.00" stroke="#141414" stroke-width="4.3"/>
<text transform="translate(1829.90 3024.00) scale(1.1000 1.0000) rotate(-45)" font-size="44.00" font-weight="bold" text-anchor="end">1000</text>
<line x1="1921.20" y1="2968.00" x2="1921.20" y2="2984.00" stroke="#141414" stroke-width="4.3"/>
<text transform="translate(1938.70 3024.00) scale(1.1000 1.0000) rotate(-45)" font-size="44.00" font-weight="bold" text-anchor="end">10</text>
<line x1="2030.00" y1="2968.00" x2="2030.00" y2="2984.00" stroke="#141414" stroke-width="4.3"/>
<text transform="translate(2047.50 3024.00) scale(1.1000 1.0000) rotate(-45)" font-size="44.00" font-weight="bold" text-anchor="end">100</text>
<line x1="2138.80" y1="2968.00" x2="2138.80" y2="2984.00" stroke="#141414" stroke-width="4.3"/>
<text transform="translate(2156.30 3024.00) scale(1.1000 1.0000) rotate(-45)" font-size="44.00" font-weight="bold" text-anchor="end">1000</text>
<line x1="1545.70" y1="3095.00" x2="1842.70" y2="3095.00" stroke="#222" stroke-width="5"/>
<line x1="1877.00" y1="3099.60" x2="2198.80" y2="3099.60" stroke="#222" stroke-width="5"/>
<text transform="translate(1653.90 3151.00) scale(1.0400 1)" font-size="50.00" font-weight="bold" letter-spacing="1.029">mAb</text>
<text transform="translate(1978.00 3151.00) scale(1.0400 1)" font-size="50.00" font-weight="bold" letter-spacing="1.468">BsAb</text>
<text transform="translate(1412.30 2379.30) scale(1.0500 1)" font-size="65.00" font-weight="bold" letter-spacing="0.958">NCI-N87 (CFSE) with</text>
<text transform="translate(1495.50 2452.80) scale(1.0500 1)" font-size="65.00" font-weight="bold" letter-spacing="1.781">Jurkat (PKH26)</text>
<text transform="translate(1257.50 2923.70) rotate(-90) scale(0.9769 1)" font-size="59.00" font-weight="bold">% positive cells</text>
<text transform="translate(1332.00 2950.00) rotate(-90) scale(0.9686 1)" font-size="60.00" font-weight="bold">(CFSE+PKH26+)</text>
</g>
</g>
</svg>
</body>
</html>
